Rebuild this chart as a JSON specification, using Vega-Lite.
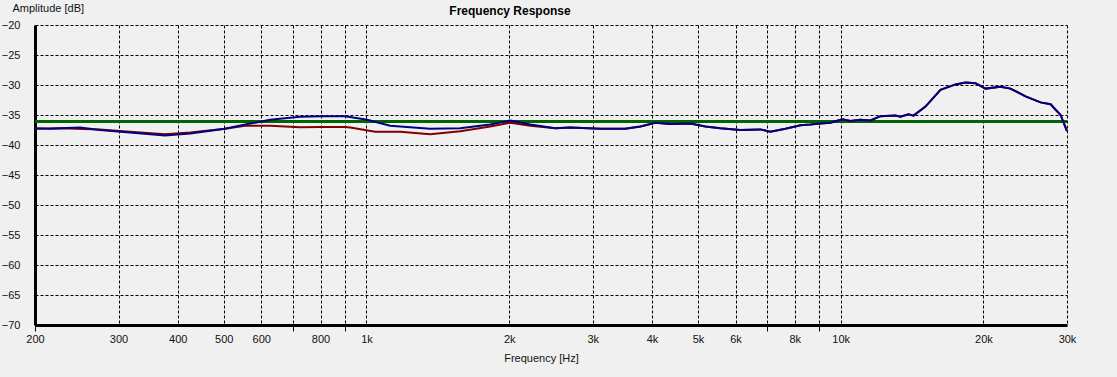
{
  "$schema": "https://vega.github.io/schema/vega-lite/v6.json",
  "width": 1032,
  "height": 300,
  "autosize": {"type": "none"},
  "padding": {"left": 35, "top": 25, "right": 50, "bottom": 52},
  "background": "#f0f0f0",
  "config": {
    "view": {"stroke": null},
    "font": "Liberation Sans",
    "axis": {"labelFont": "Liberation Sans", "titleFont": "Liberation Sans", "labelFontSize": 11, "titleFontSize": 11, "labelColor": "#111", "titleColor": "#111", "titleFontWeight": "normal"}
  },
  "title": {"text": "Frequency Response", "font": "Liberation Sans", "fontSize": 12, "fontWeight": "bold", "color": "#000", "anchor": "middle", "frame": "group", "dx": -41, "offset": -16},
  "datasets": {
    "curves": [
      {"f": 200, "dB": -36.1, "s": "ref"},
      {"f": 30000, "dB": -36.1, "s": "ref"},
      {"f": 200, "dB": -37.3, "s": "red"},
      {"f": 226, "dB": -37.2, "s": "red"},
      {"f": 274, "dB": -37.4, "s": "red"},
      {"f": 317, "dB": -37.8, "s": "red"},
      {"f": 376, "dB": -38.2, "s": "red"},
      {"f": 425, "dB": -37.9, "s": "red"},
      {"f": 503, "dB": -37.3, "s": "red"},
      {"f": 555, "dB": -36.8, "s": "red"},
      {"f": 626, "dB": -36.8, "s": "red"},
      {"f": 725, "dB": -37.05, "s": "red"},
      {"f": 800, "dB": -37.0, "s": "red"},
      {"f": 902, "dB": -37.0, "s": "red"},
      {"f": 925, "dB": -37.1, "s": "red"},
      {"f": 1043, "dB": -37.8, "s": "red"},
      {"f": 1178, "dB": -37.8, "s": "red"},
      {"f": 1362, "dB": -38.2, "s": "red"},
      {"f": 1576, "dB": -37.7, "s": "red"},
      {"f": 1824, "dB": -36.9, "s": "red"},
      {"f": 2010, "dB": -36.3, "s": "red"},
      {"f": 2215, "dB": -36.8, "s": "red"},
      {"f": 2501, "dB": -37.2, "s": "red"},
      {"f": 2690, "dB": -37.1, "s": "red"},
      {"f": 3112, "dB": -37.3, "s": "red"},
      {"f": 3513, "dB": -37.3, "s": "red"},
      {"f": 3781, "dB": -36.9, "s": "red"},
      {"f": 4065, "dB": -36.3, "s": "red"},
      {"f": 4372, "dB": -36.5, "s": "red"},
      {"f": 4819, "dB": -36.4, "s": "red"},
      {"f": 5184, "dB": -36.9, "s": "red"},
      {"f": 5575, "dB": -37.2, "s": "red"},
      {"f": 6143, "dB": -37.5, "s": "red"},
      {"f": 6768, "dB": -37.4, "s": "red"},
      {"f": 7105, "dB": -37.8, "s": "red"},
      {"f": 7643, "dB": -37.3, "s": "red"},
      {"f": 8223, "dB": -36.7, "s": "red"},
      {"f": 8630, "dB": -36.6, "s": "red"},
      {"f": 9060, "dB": -36.4, "s": "red"},
      {"f": 9512, "dB": -36.3, "s": "red"},
      {"f": 10080, "dB": -35.7, "s": "red"},
      {"f": 10480, "dB": -36.0, "s": "red"},
      {"f": 11007, "dB": -35.8, "s": "red"},
      {"f": 11554, "dB": -35.9, "s": "red"},
      {"f": 12130, "dB": -35.2, "s": "red"},
      {"f": 13040, "dB": -35.1, "s": "red"},
      {"f": 13366, "dB": -35.3, "s": "red"},
      {"f": 13895, "dB": -34.9, "s": "red"},
      {"f": 14240, "dB": -35.1, "s": "red"},
      {"f": 15090, "dB": -33.6, "s": "red"},
      {"f": 16230, "dB": -30.8, "s": "red"},
      {"f": 17460, "dB": -29.9, "s": "red"},
      {"f": 18330, "dB": -29.6, "s": "red"},
      {"f": 19240, "dB": -29.7, "s": "red"},
      {"f": 20200, "dB": -30.6, "s": "red"},
      {"f": 21720, "dB": -30.3, "s": "red"},
      {"f": 22800, "dB": -30.6, "s": "red"},
      {"f": 24530, "dB": -31.9, "s": "red"},
      {"f": 26380, "dB": -32.9, "s": "red"},
      {"f": 27700, "dB": -33.2, "s": "red"},
      {"f": 29080, "dB": -35.0, "s": "red"},
      {"f": 30000, "dB": -37.7, "s": "red"},
      {"f": 200, "dB": -37.2, "s": "blue"},
      {"f": 215, "dB": -37.3, "s": "blue"},
      {"f": 226, "dB": -37.2, "s": "blue"},
      {"f": 249, "dB": -37.1, "s": "blue"},
      {"f": 274, "dB": -37.5, "s": "blue"},
      {"f": 317, "dB": -37.9, "s": "blue"},
      {"f": 376, "dB": -38.4, "s": "blue"},
      {"f": 425, "dB": -38.1, "s": "blue"},
      {"f": 503, "dB": -37.3, "s": "blue"},
      {"f": 555, "dB": -36.6, "s": "blue"},
      {"f": 626, "dB": -35.8, "s": "blue"},
      {"f": 725, "dB": -35.3, "s": "blue"},
      {"f": 800, "dB": -35.2, "s": "blue"},
      {"f": 902, "dB": -35.2, "s": "blue"},
      {"f": 1003, "dB": -35.8, "s": "blue"},
      {"f": 1122, "dB": -36.8, "s": "blue"},
      {"f": 1362, "dB": -37.3, "s": "blue"},
      {"f": 1576, "dB": -37.2, "s": "blue"},
      {"f": 1824, "dB": -36.6, "s": "blue"},
      {"f": 2010, "dB": -35.9, "s": "blue"},
      {"f": 2215, "dB": -36.6, "s": "blue"},
      {"f": 2501, "dB": -37.2, "s": "blue"},
      {"f": 2690, "dB": -37.1, "s": "blue"},
      {"f": 3112, "dB": -37.3, "s": "blue"},
      {"f": 3513, "dB": -37.3, "s": "blue"},
      {"f": 3781, "dB": -36.9, "s": "blue"},
      {"f": 4065, "dB": -36.3, "s": "blue"},
      {"f": 4372, "dB": -36.5, "s": "blue"},
      {"f": 4819, "dB": -36.4, "s": "blue"},
      {"f": 5184, "dB": -36.9, "s": "blue"},
      {"f": 5575, "dB": -37.2, "s": "blue"},
      {"f": 6143, "dB": -37.5, "s": "blue"},
      {"f": 6768, "dB": -37.4, "s": "blue"},
      {"f": 7105, "dB": -37.8, "s": "blue"},
      {"f": 7643, "dB": -37.3, "s": "blue"},
      {"f": 8223, "dB": -36.7, "s": "blue"},
      {"f": 8630, "dB": -36.6, "s": "blue"},
      {"f": 9060, "dB": -36.4, "s": "blue"},
      {"f": 9512, "dB": -36.3, "s": "blue"},
      {"f": 10080, "dB": -35.7, "s": "blue"},
      {"f": 10480, "dB": -36.0, "s": "blue"},
      {"f": 11007, "dB": -35.8, "s": "blue"},
      {"f": 11554, "dB": -35.9, "s": "blue"},
      {"f": 12130, "dB": -35.2, "s": "blue"},
      {"f": 13040, "dB": -35.1, "s": "blue"},
      {"f": 13366, "dB": -35.3, "s": "blue"},
      {"f": 13895, "dB": -34.9, "s": "blue"},
      {"f": 14240, "dB": -35.1, "s": "blue"},
      {"f": 15090, "dB": -33.6, "s": "blue"},
      {"f": 16230, "dB": -30.8, "s": "blue"},
      {"f": 17460, "dB": -29.9, "s": "blue"},
      {"f": 18330, "dB": -29.6, "s": "blue"},
      {"f": 19240, "dB": -29.7, "s": "blue"},
      {"f": 20200, "dB": -30.6, "s": "blue"},
      {"f": 21720, "dB": -30.3, "s": "blue"},
      {"f": 22800, "dB": -30.6, "s": "blue"},
      {"f": 24530, "dB": -31.9, "s": "blue"},
      {"f": 26380, "dB": -32.9, "s": "blue"},
      {"f": 27700, "dB": -33.2, "s": "blue"},
      {"f": 29080, "dB": -35.0, "s": "blue"},
      {"f": 30000, "dB": -37.7, "s": "blue"}
    ]
  },
  "data": {"name": "curves"},
  "encoding": {
    "x": {
      "field": "f", "type": "quantitative",
      "scale": {"type": "log", "domain": [200, 30000], "nice": false},
      "axis": {
        "values": [200, 300, 400, 500, 600, 700, 800, 900, 1000, 2000, 3000, 4000, 5000, 6000, 7000, 8000, 9000, 10000, 20000, 30000],
        "labelExpr": "(datum.value==700||datum.value==900||datum.value==7000||datum.value==9000) ? '' : (datum.value>=1000 ? (datum.value/1000)+'k' : datum.value+'')",
        "labelFlush": false,
        "labelOverlap": false,
        "labelPadding": 2,
        "tickSize": 6,
        "tickWidth": 1,
        "tickColor": {"condition": {"test": "datum.value==200||datum.value==700||datum.value==900||datum.value==7000||datum.value==9000", "value": "#000"}, "value": "transparent"},
        "grid": true,
        "gridColor": {"condition": {"test": "datum.value==200", "value": "transparent"}, "value": "#000"},
        "gridDash": [3, 2],
        "gridWidth": 1,
        "gridOpacity": 1,
        "domainColor": "#000",
        "domainWidth": 3,
        "title": "Frequency [Hz]",
        "titleX": 506,
        "titleY": 33,
        "titleBaseline": "middle",
        "titleAnchor": null
      }
    },
    "y": {
      "field": "dB", "type": "quantitative",
      "scale": {"domain": [-70, -20], "nice": false, "zero": false},
      "axis": {
        "values": [-70, -65, -60, -55, -50, -45, -40, -35, -30, -25, -20],
        "ticks": false,
        "labelPadding": 15,
        "grid": true,
        "gridColor": "#000",
        "gridDash": [3, 2],
        "gridWidth": 1,
        "gridOpacity": 1,
        "domainColor": "#000",
        "domainWidth": 3,
        "title": "Amplitude [dB]",
        "titleAngle": 0,
        "titleAlign": "left",
        "titleBaseline": "middle",
        "titleX": -23,
        "titleY": -17
      }
    }
  },
  "layer": [
    {"transform": [{"filter": "datum.s == 'ref'"}], "mark": {"type": "line", "color": "#006400", "strokeWidth": 3}},
    {"transform": [{"filter": "datum.s == 'red'"}], "mark": {"type": "line", "color": "#800000", "strokeWidth": 2}},
    {"transform": [{"filter": "datum.s == 'blue'"}], "mark": {"type": "line", "color": "#000080", "strokeWidth": 2}}
  ]
}
